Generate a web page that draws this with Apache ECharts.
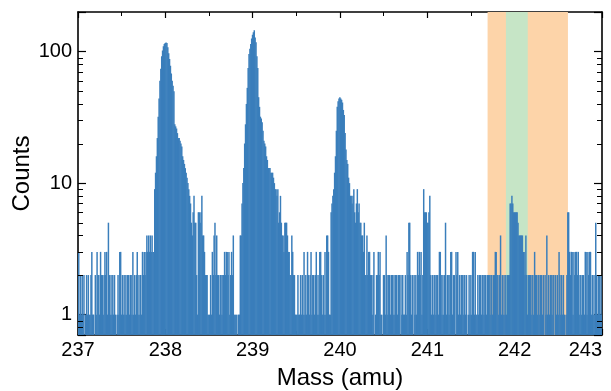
<!DOCTYPE html>
<html>
<head>
<meta charset="utf-8">
<script src="https://cdn.jsdelivr.net/npm/echarts@6/dist/echarts.min.js"></script>
<style>html,body{margin:0;padding:0;background:#fff}#c{width:611px;height:391px}</style>
</head>
<body>
<div id="c"></div>
<script>
// ---- data: histogram counts, 0.01 amu bins ----
const binWidth = 0.01;
const m237 = [3,1,2,1,2,1,2,0,1,2,
 1,2,1,1,2,3,1,1,0,2,
 1,3,2,2,1,3,2,2,1,2,
 3,2,3,1,5,2,1,2,1,2,
 1,2,1,0,1,2,1,3,3,1,
 2,1,2,1,2,1,2,2,1,2,
 2,1,3,1,2,1,2,3,1,2,
 1,2,1,3,2,3,2,3,4,3,
 4,3,4,3,4,3,3,9,12,16,
 22,32,44,60,74,92,102,110,114,116];
const m238 = [117,116,108,97,88,78,68,60,55,50,
 28,27,26,24,22,22,21,20,19,16,
 15,14,13,12,11,10,9,8,7,5,
 4,6,8,5,5,2,1,6,6,5,
 6,8,4,4,3,2,2,2,1,1,
 1,2,1,3,2,4,5,2,4,2,
 2,1,2,2,1,2,2,3,2,3,
 3,2,3,1,2,3,2,4,1,1,
 1,1,0,1,1,4,4,7,10,13,
 20,28,40,53,75,96,105,114,126,134];
const m239 = [140,145,128,118,92,75,45,38,32,31,
 29,25,21,20,19,16,15,13,13,13,
 12,12,12,11,10,9,9,8,9,5,
 6,8,5,4,4,3,5,5,5,4,
 3,3,2,2,4,3,2,2,1,1,
 1,2,1,1,2,1,2,1,3,1,
 2,1,3,2,1,2,3,1,2,2,
 1,2,3,1,2,1,3,3,2,1,
 2,1,3,1,4,4,3,1,1,6,
 7,8,9,12,16,25,38,42,44,45];
const m240 = [44,43,41,36,33,24,18,15,14,11,
 10,8,8,7,8,9,6,5,7,9,
 6,7,5,5,4,4,3,5,2,2,
 4,2,3,3,2,2,1,2,3,0,
 1,2,2,3,2,3,1,1,0,2,
 2,1,4,2,1,2,2,1,2,2,
 1,2,1,2,2,1,2,2,0,2,
 1,2,1,1,2,1,3,2,5,5,
 2,1,2,0,2,1,2,1,3,2,
 3,2,3,1,2,9,6,6,6,5];
const m241 = [5,6,8,2,1,2,1,2,2,1,
 2,2,1,3,3,2,1,2,1,2,
 5,1,2,2,1,2,3,3,1,2,
 2,0,3,2,3,1,2,1,2,2,
 2,1,2,1,2,0,1,2,1,2,
 1,3,3,1,3,1,1,2,1,2,
 2,1,2,2,1,2,2,1,2,2,
 2,1,2,2,1,2,2,3,3,2,
 2,1,2,4,1,2,1,2,1,2,
 1,2,2,2,7,7,8,7,6,6];
const m242 = [6,6,6,5,4,4,4,4,4,3,
 3,2,4,2,1,2,2,2,1,2,
 2,1,3,2,2,1,2,2,1,2,
 2,1,2,0,2,1,4,1,2,1,
 2,2,1,2,2,0,2,1,2,1,
 3,2,1,2,1,2,1,0,1,2,
 6,6,3,2,3,3,1,3,2,3,
 3,2,3,1,2,2,1,2,2,1,
 3,3,1,3,2,3,3,1,2,1,
 2,1,5,2,1,2,2,1,2,1];
const segmentStarts = [237, 238, 239, 240, 241, 242];
const segments = [m237, m238, m239, m240, m241, m242];

// shaded mass windows
const bandOrange = [241.69, 242.61];
const bandGreen = [241.90, 242.15];

// axis ranges / ticks
const xMin = 237, xMax = 243;
const yMin = 0.7, yMax = 200;
const yMinorTicks = [0.8, 0.9, 2, 3, 4, 5, 6, 7, 8, 9, 20, 30, 40, 50, 60, 70, 80, 90];

// ---- build ----
const bins = [];
segments.forEach((seg, k) => {
  seg.forEach((c, j) => {
    if (c > 0) {
      const x0 = segmentStarts[k] + j * binWidth;
      bins.push([x0, x0 + binWidth, c]);
    }
  });
});
const bandData = [
  [bandOrange[0], bandOrange[1], 1, '#fdd4a9'],
  [bandGreen[0], bandGreen[1], 1, '#c6e5c6']
];

const FONT = '"Liberation Sans", Arial, Helvetica, sans-serif';
const BLUE = '#3a7ebb';

function xAxisCfg(pos, showLabel) {
  return {
    type: 'value', min: xMin, max: xMax, interval: 1, position: pos,
    axisLine: { show: true, onZero: false, lineStyle: { color: '#000', width: 1.6 } },
    axisTick: { show: true, inside: true, length: 6, lineStyle: { color: '#000', width: 1.2 } },
    minorTick: { show: true, splitNumber: 2, length: 4, lineStyle: { color: '#000', width: 1 } },
    splitLine: { show: false }, minorSplitLine: { show: false },
    axisLabel: showLabel ? { show: true, margin: 5, fontSize: 20, color: '#000', fontFamily: FONT, alignMaxLabel: 'right' } : { show: false },
    name: showLabel ? 'Mass (amu)' : '',
    nameLocation: 'middle', nameGap: 31, nameMoveOverlap: false,
    nameTextStyle: { fontSize: 24, color: '#000', fontFamily: FONT }
  };
}
function yAxisCfg(pos, showLabel) {
  return {
    type: 'log', logBase: 10, min: yMin, max: yMax, position: pos,
    axisLine: { show: true, onZero: false, lineStyle: { color: '#000', width: 1.6 } },
    axisTick: { show: true, inside: true, length: 8, lineStyle: { color: '#000', width: 1.2 } },
    splitLine: { show: false },
    axisLabel: showLabel ? {
      show: true, margin: 6, fontSize: 20, color: '#000', fontFamily: FONT,
      formatter: v => { const l = Math.log10(v); return Math.abs(l - Math.round(l)) < 1e-6 ? String(Math.round(v)) : ''; }
    } : { show: false },
    name: showLabel ? 'Counts' : '',
    nameLocation: 'middle', nameGap: 44, nameMoveOverlap: false,
    nameTextStyle: { fontSize: 24, color: '#000', fontFamily: FONT }
  };
}

const chart = echarts.init(document.getElementById('c'), null, { renderer: 'canvas' });
chart.setOption({
  animation: false,
  backgroundColor: '#fff',
  grid: { left: 78, right: 9, top: 12, bottom: 56, containLabel: false, outerBoundsMode: 'none' },
  xAxis: [xAxisCfg('bottom', true), xAxisCfg('top', false)],
  yAxis: [yAxisCfg('left', true), yAxisCfg('right', false)],
  series: [
    {
      type: 'custom', z: 1, clip: true,
      encode: { x: [0, 1], y: 2 },
      data: bandData,
      renderItem: (params, api) => {
        const cs = params.coordSys;
        const a = api.coord([api.value(0), yMin]);
        const b = api.coord([api.value(1), yMin]);
        return { type: 'rect', shape: { x: a[0], y: cs.y, width: b[0] - a[0], height: cs.height },
                 style: { fill: bandData[params.dataIndex][3] } };
      }
    },
    {
      type: 'custom', z: 2, clip: true,
      encode: { x: [0, 1], y: 2 },
      data: bins,
      renderItem: (params, api) => {
        const cs = params.coordSys;
        const p0 = api.coord([api.value(0), api.value(2)]);
        const p1 = api.coord([api.value(1), api.value(2)]);
        const bottom = cs.y + cs.height;
        return { type: 'rect', shape: { x: p0[0], y: p0[1], width: p1[0] - p0[0] + 0.6, height: bottom - p0[1] },
                 style: { fill: BLUE } };
      }
    },
    {
      type: 'custom', z: 5, clip: false,
      encode: { x: 0, y: 1 },
      data: yMinorTicks.map(v => [xMin, v]),
      renderItem: (params, api) => {
        const cs = params.coordSys;
        const p = api.coord([api.value(0), api.value(1)]);
        const y = Math.round(p[1]) + 0.5;
        const st = { stroke: '#000', lineWidth: 1 };
        return { type: 'group', children: [
          { type: 'line', shape: { x1: cs.x, y1: y, x2: cs.x + 5, y2: y }, style: st },
          { type: 'line', shape: { x1: cs.x + cs.width - 5, y1: y, x2: cs.x + cs.width, y2: y }, style: st }
        ] };
      }
    }
  ]
});
</script>
</body>
</html>
